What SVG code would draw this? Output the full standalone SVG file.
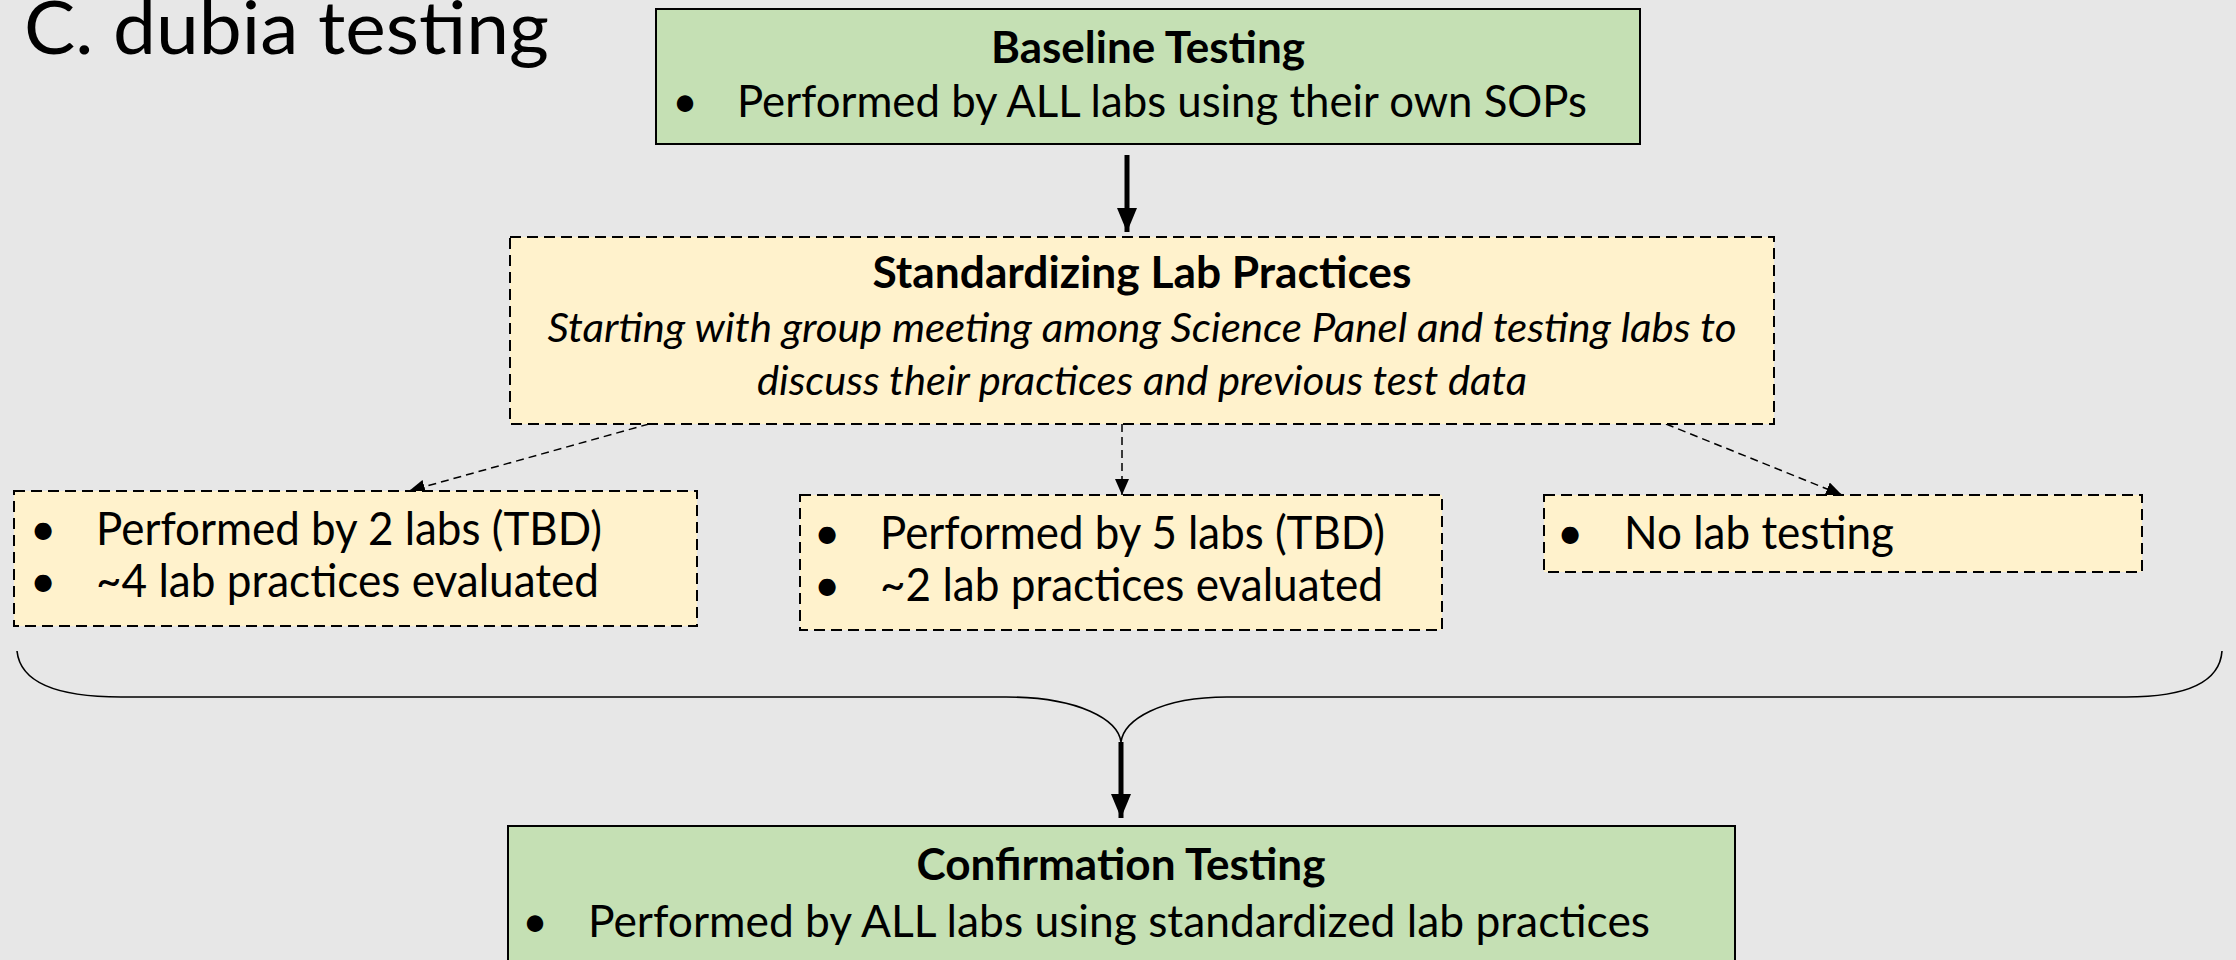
<svg xmlns="http://www.w3.org/2000/svg" width="2236" height="960" viewBox="0 0 2236 960">
<defs>
<style>
.t{font-family:Lato,"Open Sans","Liberation Sans",sans-serif;fill:#000}
.b{font-weight:bold}
.i{font-style:italic}
.green{fill:#c5e0b4;stroke:#000;stroke-width:2}
.yel{fill:#fff2cc;stroke:#000;stroke-width:2;stroke-dasharray:11 6}
.thick{stroke:#000;stroke-width:5;fill:none}
.dash{stroke:#000;stroke-width:1.5;fill:none;stroke-dasharray:8 5}
.brace{stroke:#000;stroke-width:1.6;fill:none}
</style>
<marker id="sm" markerUnits="userSpaceOnUse" markerWidth="16" markerHeight="14" refX="16" refY="7" orient="auto" viewBox="0 0 16 14">
<path d="M0,0 L16,7 L0,14 Z" fill="#000"/>
</marker>
<marker id="bg" markerUnits="userSpaceOnUse" markerWidth="24" markerHeight="20" refX="24" refY="10" orient="auto" viewBox="0 0 24 20">
<path d="M0,0 L24,10 L0,20 Z" fill="#000"/>
</marker>
</defs>
<rect x="0" y="0" width="2236" height="960" fill="#e7e7e7"/>
<text class="t" x="24" y="54" font-size="74" textLength="525" lengthAdjust="spacingAndGlyphs">C. dubia testing</text>

<g id="connectors">
<line class="thick" x1="1127" y1="155" x2="1127" y2="232" marker-end="url(#bg)"/>
<line class="dash" x1="649" y1="424" x2="409" y2="491" marker-end="url(#sm)"/>
<line class="dash" x1="1122" y1="424" x2="1122" y2="495" marker-end="url(#sm)"/>
<line class="dash" x1="1666" y1="424" x2="1842" y2="495" marker-end="url(#sm)"/>
<path class="brace" d="M17,651 C20,680 50,697 121,697 L1006,697 C1080,697 1118,720 1121,742 C1124,720 1160,697 1227,697 L2126,697 C2190,697 2220,680 2222,651"/>
<line class="thick" x1="1121" y1="742" x2="1121" y2="818" marker-end="url(#bg)"/>
</g>

<g id="baseline">
<rect class="green" x="656" y="9" width="984" height="135"/>
<text class="t b" x="1148" y="63" font-size="44" text-anchor="middle" textLength="314" lengthAdjust="spacingAndGlyphs">Baseline Testing</text>
<text class="t" x="685" y="117" font-size="44" text-anchor="middle">•</text>
<text class="t" x="737" y="117" font-size="45" textLength="850" lengthAdjust="spacingAndGlyphs">Performed by ALL labs using their own SOPs</text>
</g>

<g id="standardizing">
<rect class="yel" x="510" y="237" width="1264" height="187"/>
<text class="t b" x="1142" y="288" font-size="44" text-anchor="middle" textLength="539" lengthAdjust="spacingAndGlyphs">Standardizing Lab Practices</text>
<text class="t i" x="1142" y="342" font-size="41" text-anchor="middle" textLength="1189" lengthAdjust="spacingAndGlyphs">Starting with group meeting among Science Panel and testing labs to</text>
<text class="t i" x="1142" y="395" font-size="41" text-anchor="middle" textLength="770" lengthAdjust="spacingAndGlyphs">discuss their practices and previous test data</text>
</g>

<g id="two-labs">
<rect class="yel" x="14" y="491" width="683" height="135"/>
<text class="t" x="43" y="545" font-size="46" text-anchor="middle">•</text>
<text class="t" x="96" y="545" font-size="47" textLength="506" lengthAdjust="spacingAndGlyphs">Performed by 2 labs (TBD)</text>
<text class="t" x="43" y="597" font-size="46" text-anchor="middle">•</text>
<text class="t" x="96" y="597" font-size="47" textLength="503" lengthAdjust="spacingAndGlyphs">~4 lab practices evaluated</text>
</g>

<g id="five-labs">
<rect class="yel" x="800" y="495" width="642" height="135"/>
<text class="t" x="827" y="549" font-size="46" text-anchor="middle">•</text>
<text class="t" x="880" y="549" font-size="47" textLength="505" lengthAdjust="spacingAndGlyphs">Performed by 5 labs (TBD)</text>
<text class="t" x="827" y="601" font-size="46" text-anchor="middle">•</text>
<text class="t" x="880" y="601" font-size="47" textLength="503" lengthAdjust="spacingAndGlyphs">~2 lab practices evaluated</text>
</g>

<g id="no-lab">
<rect class="yel" x="1544" y="495" width="598" height="77"/>
<text class="t" x="1570" y="549" font-size="46" text-anchor="middle">•</text>
<text class="t" x="1624" y="549" font-size="47" textLength="270" lengthAdjust="spacingAndGlyphs">No lab testing</text>
</g>

<g id="confirmation">
<rect class="green" x="508" y="826" width="1227" height="145"/>
<text class="t b" x="1121" y="880" font-size="44" text-anchor="middle" textLength="409" lengthAdjust="spacingAndGlyphs">Confirmation Testing</text>
<text class="t" x="535" y="937" font-size="44" text-anchor="middle">•</text>
<text class="t" x="588" y="937" font-size="45" textLength="1062" lengthAdjust="spacingAndGlyphs">Performed by ALL labs using standardized lab practices</text>
</g>
</svg>
